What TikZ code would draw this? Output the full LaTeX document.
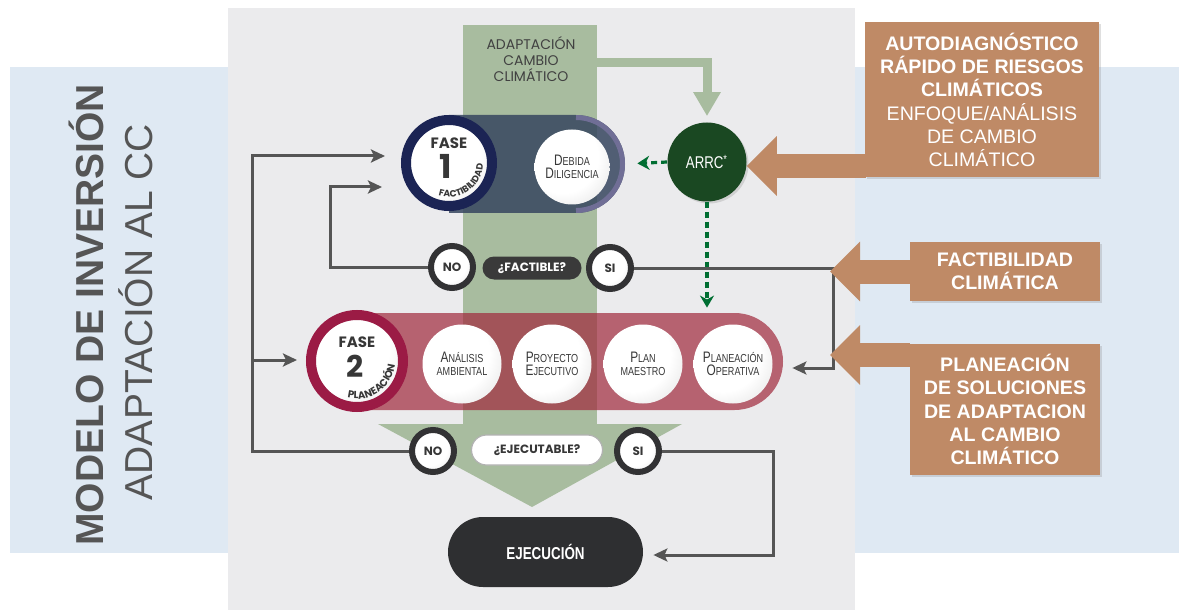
\documentclass[tikz,border=0pt]{standalone}
\usepackage{fontspec}
\setmainfont{Liberation Sans}
\newfontfamily\condfont[FakeStretch=0.78]{Liberation Sans}
\newfontfamily\geofont{Poppins}
\usepackage{xcolor}
\usepackage{tikz}
\usetikzlibrary{arrows.meta, positioning, shapes.misc, decorations.text, shadows}

\definecolor{bluebg}{RGB}{223,233,243}
\definecolor{panelgray}{RGB}{235,235,237}
\definecolor{bandgreen}{RGB}{168,188,159}
\definecolor{f1slate}{RGB}{55,70,95}
\definecolor{f1navy}{RGB}{27,36,84}
\definecolor{lavender}{RGB}{112,110,150}
\definecolor{f2rose}{RGB}{160,40,60}
\definecolor{f2crimson}{RGB}{155,27,69}
\definecolor{arrcgreen}{RGB}{26,72,34}
\definecolor{dotgreen}{RGB}{0,110,50}
\definecolor{linegray}{RGB}{85,85,85}
\definecolor{ringdark}{RGB}{50,50,52}
\definecolor{pilldark}{RGB}{58,58,58}
\definecolor{ejecdark}{RGB}{46,47,49}
\definecolor{orangefill}{RGB}{191,138,102}
\definecolor{balltext}{RGB}{55,55,55}
\definecolor{labelgray}{RGB}{65,65,65}
\definecolor{sidegray}{RGB}{85,85,85}

\pgfdeclareradialshading{ballshade}{\pgfpoint{-10bp}{10bp}}{color(0bp)=(white); color(24bp)=(white); color(50bp)=(black!18); color(70bp)=(black!30)}

% big first letter, small rest
\newcommand{\capword}[2]{{\fontsize{7.6}{7}\selectfont #1}{\fontsize{5.8}{7}\selectfont #2}}

\begin{document}
\begin{tikzpicture}[x=0.5pt, y=-0.5pt,
    ball/.style={circle, shading=ballshade, inner sep=0pt, minimum size=39.5pt, align=center, text=balltext, font=\condfont\fontsize{5.8}{6.5}\selectfont},
    fasering/.style={circle, shading=ballshade, inner sep=0pt, line width=5pt},
    yesno/.style={circle, draw=ringdark, line width=3pt, shading=ballshade, inner sep=0pt, minimum size=21pt, text=balltext, font=\geofont\bfseries\fontsize{6}{7}\selectfont},
    pill/.style={rounded rectangle, inner sep=0pt},
    orangebox/.style={fill=orangefill, text=white, align=center, inner sep=0pt, font=\fontsize{9.8}{11.6}\selectfont, drop shadow={opacity=0.25, shadow xshift=1pt, shadow yshift=-1pt}},
    grayarr/.style={draw=linegray, line width=1.5pt, -{Stealth[length=7pt, width=6.5pt, inset=1.5pt]}},
    dotarr/.style={draw=dotgreen, line width=1.6pt, dash pattern=on 3pt off 2pt, -{Stealth[length=6pt, width=7pt]}},
    orangearr/.style={draw=orangefill, line width=12pt, -{Triangle[length=15pt, width=29pt]}},
]
\useasboundingbox (0,0) rectangle (1179,610);

% backgrounds
\fill[bluebg] (10,67) rectangle (1179,553);
\fill[panelgray] (228,8) rectangle (855,610);
\fill[bandgreen] (463,25) rectangle (597,424);
\fill[bandgreen] (378,424) -- (682,424) -- (532,507) -- cycle;

\node[rotate=90, font=\bfseries\fontsize{19.5}{20}\selectfont, text=sidegray] (modelo) at (86,315) {MODELO DE INVERSIÓN};
\node[rotate=90, font=\fontsize{19.5}{20}\selectfont, text=sidegray] (adaptcc) at (136,312) {ADAPTACIÓN AL CC};

\node[align=center, text=labelgray, font=\geofont\fontsize{7}{8}\selectfont] (adaptlbl) at (531,59) {ADAPTACIÓN\\CAMBIO\\CLIMÁTICO};

% fase bands
\node[pill, rounded rectangle left arc=none, fill=f1slate, fill opacity=0.85, minimum width=88pt, minimum height=49pt] (f1band) at (537,164) {};
\draw[lavender, line width=2.5pt] (576,117.5) arc[start angle=90, end angle=-90, radius=23.25pt];
\node[pill, rounded rectangle left arc=none, fill=f2rose, fill opacity=0.7, minimum width=213pt, minimum height=48.5pt] (f2band) at (570,361.5) {};

% fase 1
\node[fasering, draw=f1navy, minimum size=43pt] (f1) at (449,163) {};
\node[text=balltext, font=\geofont\bfseries\fontsize{7.5}{8}\selectfont] (f1word) at (449,143) {FASE};
\node[text=balltext, font=\geofont\bfseries\fontsize{16.5}{17}\selectfont] (f1num) at (446,166) {1};
\path[decorate, decoration={text along path, text align=center, text color=balltext,
    text={|\geofont\bfseries\fontsize{4.6}{5}\selectfont|FACTIBILIDAD}}]
    ([shift={(-150:17pt)}]f1.center) arc[start angle=-150, end angle=40, radius=17pt];
\node[ball, minimum size=37.5pt] (debida) at (572,167) {\capword{D}{EBIDA}\\\capword{D}{ILIGENCIA}};

\node[circle, fill=arrcgreen, minimum size=39.5pt, inner sep=0pt, text=white, font=\condfont\fontsize{8.5}{9}\selectfont, drop shadow={opacity=0.25, shadow xshift=1pt, shadow yshift=-1pt}] (arrc) at (707,162) {ARRC\textsuperscript{*}};

% fase 2
\node[fasering, draw=f2crimson, minimum size=46pt] (f2) at (357,361) {};
\node[text=balltext, font=\geofont\bfseries\fontsize{7.5}{8}\selectfont] (f2word) at (357,342) {FASE};
\node[text=balltext, font=\geofont\bfseries\fontsize{15}{15}\selectfont] (f2num) at (355,366) {2};
\path[decorate, decoration={text along path, text align=center, text color=balltext,
    text={|\geofont\bfseries\fontsize{5.1}{6}\selectfont|PLANEACIÓN}}]
    ([shift={(-150:19pt)}]f2.center) arc[start angle=-150, end angle=40, radius=19pt];

\node[ball] (analisis) at (462,364) {\capword{A}{NÁLISIS}\\AMBIENTAL};
\node[ball] (proyecto) at (552,364) {\capword{P}{ROYECTO}\\\capword{E}{JECUTIVO}};
\node[ball] (plan) at (643,364) {\capword{P}{LAN}\\MAESTRO};
\node[ball] (planop) at (733,364) {\capword{P}{LANEACIÓN}\\\capword{O}{PERATIVA}};

% decisions
\node[yesno] (no1) at (452,267) {NO};
\node[pill, fill=pilldark, text=white, font=\geofont\bfseries\fontsize{6}{7}\selectfont, minimum width=49.5pt, minimum height=11.5pt] (factq) at (532,268) {¿FACTIBLE?};
\node[yesno] (si1) at (610,268) {SI};

\node[yesno] (no2) at (433,451) {NO};
\node[pill, fill=white, draw=gray!60, line width=0.6pt, text=balltext, font=\geofont\bfseries\fontsize{6}{7}\selectfont, minimum width=65.5pt, minimum height=15pt] (ejecq) at (537,450) {¿EJECUTABLE?};
\node[yesno] (si2) at (638,451) {SI};

\node[pill, fill=ejecdark, text=white, font=\condfont\bfseries\fontsize{8.6}{9}\selectfont, minimum width=97.5pt, minimum height=35pt] (ejec) at (545.5,552) {EJECUCIÓN};

% orange boxes
\node[orangebox, minimum width=117pt, minimum height=77.5pt] (box1) at (982,100)
    {\textbf{AUTODIAGNÓSTICO}\\\textbf{RÁPIDO DE RIESGOS}\\\textbf{CLIMÁTICOS}\\ENFOQUE/ANÁLISIS\\DE CAMBIO\\CLIMÁTICO};
\node[orangebox, minimum width=95pt, minimum height=29.5pt] (box2) at (1005,271.5)
    {\textbf{FACTIBILIDAD}\\\textbf{CLIMÁTICA}};
\node[orangebox, minimum width=95pt, minimum height=65.5pt] (box3) at (1005,409.5)
    {\textbf{PLANEACIÓN}\\\textbf{DE SOLUCIONES}\\\textbf{DE ADAPTACION}\\\textbf{AL CAMBIO}\\\textbf{CLIMÁTICO}};

\coordinate (loopf1) at (330,187);
\coordinate (outertop) at (252,156);
\coordinate (outerf2) at (252,360);
\coordinate (siturn) at (833,368);
\coordinate (ejturn) at (773,555);
\coordinate (adaptout) at (597,63);
\coordinate (o1) at (866,166);
\coordinate (o3) at (910,355);

\draw[bandgreen, line width=4.5pt, -{Triangle[length=12pt, width=13pt]}, shorten >=3pt] (adaptout) -| (arrc.north);
\draw[dotarr, shorten >=6pt] (arrc.west) -- (f1band.east);
\draw[dotarr, shorten >=2.5pt] (arrc.south) -- (arrc.south |- f2band.north);

\draw[grayarr, shorten >=9.5pt] (no1.west) -| (loopf1) -- (loopf1 -| f1.west);
\draw[grayarr, shorten >=8pt] (outerf2) -- (outertop) -- (outertop -| f1.west);
\draw[grayarr, shorten >=4.5pt] (no2.west) -| (outerf2) -- (outerf2 -| f2.west);
\draw[grayarr, shorten >=4.5pt] (si1.east) -| (siturn) -- (siturn -| f2band.east);
\draw[grayarr, shorten >=5pt] (si2.east) -| (ejturn) -- (ejturn -| ejec.east);

\draw[orangearr] (o1) -- (o1 -| arrc.east);
\draw[orangearr, shorten >=-1.5pt] (box2.west) -- (box2.west -| siturn);
\draw[orangearr, shorten >=-1.5pt] (o3) -- (o3 -| siturn);

\end{tikzpicture}
\end{document}
